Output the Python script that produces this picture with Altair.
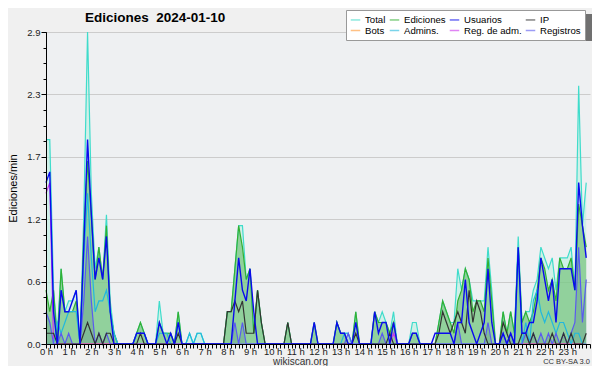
import altair as alt
import pandas as pd

# 10-minute bins over the day (minutes since 00:00)
MINUTES = list(range(0, 1440, 10))

SERIES = ["Total", "Ediciones", "Usuarios", "IP", "Bots", "Admins.", "Reg. de adm.", "Registros"]
COLORS = ["#3fdccb", "#33b033", "#0a0aee", "#333333", "#ff9933", "#22b8dd", "#cc33ee", "#5a5af0"]

# edits per 10-minute bin (chart shows edits/min = count / 10)
total = [19, 19, 5, 1, 7, 3, 4, 4, 5, 0, 12, 29,
         14, 7, 9, 6, 12, 4, 1, 0, 0, 0, 0, 0,
         1, 2, 1, 0, 0, 0, 4, 1, 1, 1, 0, 3,
         0, 0, 1, 0, 1, 1, 0, 0, 0, 0, 0, 0,
         3, 3, 7, 11, 11, 6, 7, 1, 5, 2, 0, 0,
         0, 0, 0, 0, 2, 0, 0, 0, 0, 0, 0, 2,
         0, 0, 0, 0, 0, 2, 1, 1, 1, 0, 3, 0,
         0, 0, 0, 3, 2, 3, 2, 1, 3, 0, 0, 0,
         0, 2, 2, 0, 0, 0, 0, 0, 2, 4, 3, 2,
         2, 7, 5, 7, 6, 4, 4, 4, 4, 9, 5, 0,
         0, 3, 1, 3, 1, 10, 2, 3, 3, 5, 6, 9,
         8, 7, 8, 5, 8, 8, 8, 9, 5, 24, 11, 15]
ediciones = [5, 3, 5, 0, 7, 3, 3, 3, 4, 0, 10, 17,
             12, 6, 9, 6, 11, 3, 1, 0, 0, 0, 0, 0,
             1, 2, 1, 0, 0, 0, 2, 1, 1, 1, 0, 3,
             0, 0, 0, 0, 0, 0, 0, 0, 0, 0, 0, 0,
             3, 3, 7, 11, 9, 6, 7, 1, 5, 2, 0, 0,
             0, 0, 0, 0, 2, 0, 0, 0, 0, 0, 0, 2,
             0, 0, 0, 0, 0, 2, 1, 1, 0, 0, 3, 0,
             0, 0, 0, 3, 2, 2, 2, 1, 2, 0, 0, 0,
             0, 1, 1, 0, 0, 0, 0, 0, 2, 4, 3, 2,
             1, 4, 5, 7, 6, 3, 4, 4, 3, 8, 4, 0,
             0, 3, 1, 3, 1, 9, 2, 3, 2, 3, 5, 8,
             7, 5, 6, 4, 8, 7, 7, 8, 5, 13, 11, 9]
usuarios = [15, 16, 3, 0, 5, 3, 3, 4, 5, 0, 9, 19,
            12, 6, 8, 6, 10, 3, 0, 0, 0, 0, 0, 0,
            1, 1, 1, 0, 0, 0, 2, 1, 0, 1, 0, 2,
            0, 0, 0, 0, 0, 0, 0, 0, 0, 0, 0, 0,
            0, 0, 4, 8, 5, 4, 7, 3, 0, 0, 0, 0,
            0, 0, 0, 0, 0, 0, 0, 0, 0, 0, 0, 2,
            0, 0, 0, 0, 0, 2, 1, 1, 0, 0, 2, 0,
            0, 0, 0, 3, 1, 2, 2, 0, 2, 0, 0, 0,
            0, 1, 1, 0, 0, 0, 0, 1, 1, 1, 1, 1,
            0, 2, 2, 6, 2, 1, 0, 1, 2, 7, 2, 0,
            0, 1, 0, 1, 0, 9, 1, 1, 2, 2, 4, 8,
            6, 4, 6, 2, 7, 7, 7, 7, 5, 15, 11, 8]
ip = [1, 1, 1, 0, 0, 0, 0, 0, 0, 0, 1, 2,
      1, 0, 1, 0, 1, 1, 0, 0, 0, 0, 0, 0,
      0, 1, 0, 0, 0, 0, 0, 0, 0, 0, 0, 1,
      0, 0, 0, 0, 0, 0, 0, 0, 0, 0, 0, 0,
      3, 3, 4, 3, 4, 1, 1, 1, 5, 2, 0, 0,
      0, 0, 0, 0, 2, 0, 0, 0, 0, 0, 0, 0,
      0, 0, 0, 0, 0, 0, 0, 0, 0, 0, 1, 0,
      0, 0, 0, 0, 0, 0, 0, 1, 0, 0, 0, 0,
      0, 0, 0, 0, 0, 0, 0, 0, 1, 3, 2, 1,
      2, 3, 2, 1, 5, 2, 4, 3, 1, 0, 0, 0,
      0, 2, 1, 0, 0, 0, 1, 1, 0, 1, 0, 0,
      0, 0, 1, 0, 0, 1, 0, 1, 0, 0, 0, 1]
bots = [0] * 144
admins = [0, 0, 0, 2, 1, 2, 3, 3, 3, 0, 8, 14,
          8, 3, 4, 4, 5, 3, 1, 0, 0, 0, 0, 0,
          1, 1, 1, 0, 0, 0, 1, 1, 1, 0, 0, 2,
          0, 0, 1, 0, 1, 1, 0, 0, 0, 0, 0, 0,
          0, 0, 0, 0, 0, 0, 0, 0, 0, 0, 0, 0,
          0, 0, 0, 0, 0, 0, 0, 0, 0, 0, 0, 0,
          0, 0, 0, 0, 0, 0, 0, 1, 1, 0, 0, 0,
          0, 0, 0, 0, 0, 0, 0, 0, 0, 0, 0, 0,
          0, 0, 0, 0, 0, 0, 0, 0, 0, 0, 0, 0,
          0, 0, 0, 0, 0, 0, 0, 0, 0, 0, 0, 0,
          0, 0, 0, 0, 0, 9, 0, 2, 0, 4, 5, 3,
          2, 3, 2, 1, 2, 2, 1, 0, 1, 1, 0, 0]
reg_adm = [14, 15] + [0] * 90 + [1] + [0] * 51
registros = [3, 2, 0, 0, 1, 0, 1, 0, 0, 0, 4, 10,
             4, 0, 1, 0, 1, 0, 0, 0, 0, 0, 0, 0,
             0, 0, 0, 0, 0, 0, 0, 0, 0, 0, 0, 0,
             0, 0, 0, 0, 0, 0, 0, 0, 0, 0, 0, 0,
             0, 0, 2, 0, 2, 0, 0, 0, 0, 0, 0, 0,
             0, 0, 0, 0, 0, 0, 0, 0, 0, 0, 0, 0,
             0, 0, 0, 0, 0, 0, 0, 0, 1, 0, 0, 0,
             0, 0, 0, 0, 0, 1, 0, 0, 0, 0, 0, 0,
             0, 0, 0, 0, 0, 0, 0, 0, 0, 0, 0, 0,
             0, 2, 0, 0, 0, 0, 0, 0, 0, 2, 0, 0,
             0, 1, 0, 1, 0, 0, 0, 1, 0, 1, 0, 1,
             0, 1, 0, 1, 0, 1, 0, 1, 2, 9, 2, 6]

Y_MAJOR = [0, 0.58, 1.16, 1.74, 2.32, 2.9]
Y_MINOR = [0.145, 0.29, 0.435, 0.725, 0.87, 1.015, 1.305, 1.45, 1.595,
           1.885, 2.03, 2.175, 2.465, 2.61, 2.755]

series_data = {
    "Total": total, "Ediciones": ediciones, "Usuarios": usuarios, "IP": ip,
    "Bots": bots, "Admins.": admins, "Reg. de adm.": reg_adm, "Registros": registros,
}
rows = []
for name, vals in series_data.items():
    for m, v in zip(MINUTES, vals):
        rows.append({"minute": m, "series": name, "value": v / 10})
df = pd.DataFrame(rows)

FONT = "Liberation Sans"
xscale = alt.Scale(domain=[0, 1440], nice=False, zero=False)
yscale = alt.Scale(domain=[0, 2.9], nice=False)
cscale = alt.Scale(domain=SERIES, range=COLORS)


def sub(name):
    return alt.Chart(df[df["series"] == name])


x_axis = alt.Axis(values=list(range(0, 1441, 10)),
                  labelExpr="datum.value % 60 == 0 && datum.value < 1440 ? (datum.value / 60) + ' h' : ''",
                  labelOverlap=False, labelFlush=False, labelBound=False,
                  tickSize=4, tickColor="black", domainColor="black",
                  labelFont=FONT, labelFontSize=9.5, labelColor="#222", labelPadding=-2,
                  grid=False, title="wikiscan.org", titleFont=FONT, titleFontSize=10,
                  titleFontWeight="normal", titleColor="#333", titleX=254, titleY=20,
                  titleBaseline="alphabetic", zindex=1)
y_axis = alt.Axis(values=Y_MAJOR, format=".1f", grid=True, gridColor="#cccccc",
                  tickSize=5, tickColor="black", domainColor="black",
                  labelFont=FONT, labelFontSize=9.5, labelColor="#222", labelPadding=1,
                  title="Ediciones/min", titleFont=FONT, titleFontSize=11,
                  titleFontWeight="normal", titleColor="black", titlePadding=8,
                  orient="left", zindex=0)
y_minor = alt.Axis(values=Y_MINOR, labels=False, tickSize=3, tickColor="black",
                   domain=True, domainColor="black", grid=False, title=None,
                   orient="left", zindex=1)

area_total = sub("Total").mark_area(color="#b8f0e0", opacity=0.55).encode(
    x=alt.X("minute:Q", scale=xscale, axis=x_axis),
    y=alt.Y("value:Q", scale=yscale, axis=y_axis),
)
minor = sub("Total").mark_line(opacity=0).encode(
    x=alt.X("minute:Q", scale=xscale, axis=None),
    y=alt.Y("value:Q", scale=yscale, axis=y_minor),
)
area_ed = sub("Ediciones").mark_area(color="#5cb85c", opacity=0.55).encode(
    x=alt.X("minute:Q", scale=xscale, axis=None),
    y=alt.Y("value:Q", scale=yscale, axis=None),
)
area_reg = sub("Registros").mark_area(color="#305a80", opacity=0.18).encode(
    x=alt.X("minute:Q", scale=xscale, axis=None),
    y=alt.Y("value:Q", scale=yscale, axis=None),
)

legend = alt.Legend(title=None, orient="none", legendX=300, legendY=-22,
                    direction="horizontal", columns=4, symbolType="stroke",
                    symbolSize=90, symbolStrokeWidth=1.5, symbolOpacity=0.6,
                    labelFont=FONT, labelFontSize=9.6, labelColor="black",
                    fillColor="white", strokeColor="#999999", padding=4,
                    rowPadding=-7, columnPadding=0, labelOffset=4, offset=0,
                    zindex=2)

line_order = ["Total", "Ediciones", "Bots", "Reg. de adm.", "Admins.", "Registros", "IP", "Usuarios"]
lines = []
for k, name in enumerate(line_order):
    lines.append(
        sub(name).mark_line(strokeWidth=1.4 if name == "Usuarios" else 1.2).encode(
            x=alt.X("minute:Q", scale=xscale, axis=None),
            y=alt.Y("value:Q", scale=yscale, axis=None),
            color=alt.Color("series:N", scale=cscale, legend=legend if k == 0 else None),
        )
    )

# drop shadow behind the legend box (decoration)
shadow = alt.Chart(pd.DataFrame({"s": [0]})).mark_rect(color="#707070").encode(
    x=alt.value(303), x2=alt.value(547), y=alt.value(-18), y2=alt.value(9)
)

cc = alt.Chart(pd.DataFrame({"t": ["CC BY-SA 3.0"]})).mark_text(
    align="right", baseline="alphabetic", font=FONT, fontSize=7.5, color="#333"
).encode(text="t:N", x=alt.value(544), y=alt.value(332))

chart = alt.layer(area_total, minor, area_ed, area_reg, *lines, shadow, cc).resolve_axis(
    x="independent", y="independent"
).properties(
    width=544, height=312,
    title=alt.TitleParams("Ediciones\u00a0 2024-01-10", anchor="start", frame="group",
                          dx=39, font="Liberation Sans", fontSize=13.5, fontWeight="bold",
                          color="black", offset=-15),
    autosize=alt.AutoSizeParams(type="none"),
    padding={"left": 38, "top": 24, "right": 2, "bottom": 22},
    background="#f0f0f0",
).configure_view(fill="#eef0f2", stroke=None)

chart.save("out.html", embed_options={"renderer": "svg", "actions": False})
